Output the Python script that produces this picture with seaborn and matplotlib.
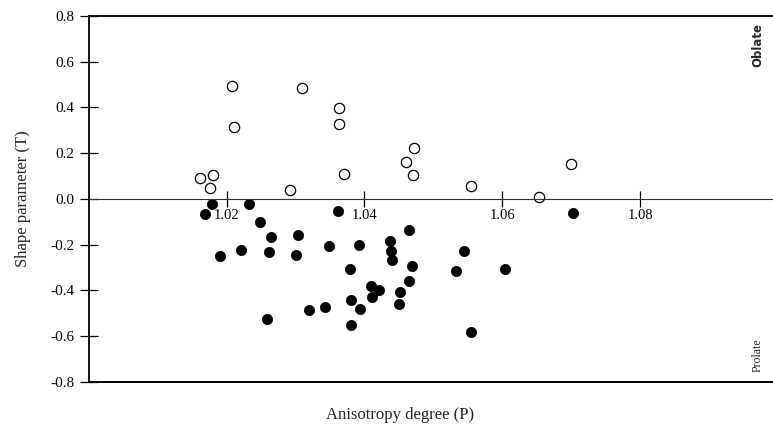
import matplotlib
matplotlib.use("Agg")
import matplotlib.pyplot as plt
import seaborn as sns
import pandas as pd

# ── Data ─────────────────────────────────────────────────────────────────────
# open circles: oblate fabrics (T > 0)
oblate_P = [1.0208, 1.0309, 1.0211, 1.0363, 1.0363, 1.0370, 1.0161, 1.0180,
            1.0176, 1.0292, 1.0472, 1.0461, 1.0471, 1.0554, 1.0654, 1.0700]
oblate_T = [0.493, 0.484, 0.313, 0.396, 0.329, 0.110, 0.093, 0.104,
            0.048, 0.038, 0.224, 0.162, 0.104, 0.056, 0.010, 0.154]

# filled circles: prolate fabrics (T < 0)
prolate_P = [1.0169, 1.0179, 1.0232, 1.0362, 1.0249, 1.0191, 1.0221, 1.0264,
             1.0262, 1.0303, 1.0301, 1.0348, 1.0392, 1.0379, 1.0409, 1.0421,
             1.0381, 1.0411, 1.0393, 1.0380, 1.0320, 1.0342, 1.0259, 1.0464,
             1.0437, 1.0439, 1.0440, 1.0469, 1.0464, 1.0452, 1.0450, 1.0544,
             1.0533, 1.0604, 1.0554, 1.0702]
prolate_T = [-0.067, -0.023, -0.021, -0.053, -0.100, -0.250, -0.224, -0.168,
             -0.234, -0.157, -0.244, -0.206, -0.202, -0.308, -0.382, -0.399,
             -0.440, -0.431, -0.481, -0.550, -0.486, -0.471, -0.525, -0.137,
             -0.186, -0.229, -0.268, -0.295, -0.360, -0.408, -0.459, -0.228,
             -0.317, -0.307, -0.582, -0.063]

x_ticks = [1.02, 1.04, 1.06, 1.08]
y_ticks = [0.8, 0.6, 0.4, 0.2, 0.0, -0.2, -0.4, -0.6, -0.8]

df_obl = pd.DataFrame({"P": oblate_P, "T": oblate_T})
df_pro = pd.DataFrame({"P": prolate_P, "T": prolate_T})

# ── Style ────────────────────────────────────────────────────────────────────
sns.set_theme(style="white")
plt.rcParams["font.family"] = ["Liberation Serif", "DejaVu Serif"]

fig = plt.figure(figsize=(7.73, 4.30), dpi=100)
ax = fig.add_axes([0.115, 0.112, 0.885, 0.851])

sns.scatterplot(data=df_obl, x="P", y="T", ax=ax, s=55,
                facecolor="white", edgecolor="black", linewidth=0.9)
sns.scatterplot(data=df_pro, x="P", y="T", ax=ax, s=55,
                color="black", edgecolor="black", linewidth=0.5)

ax.set_xlim(1.0, 1.0993)
ax.set_ylim(-0.8, 0.8)

# x axis sits on the T = 0 line, the frame is closed by a separate bottom line
ax.spines["bottom"].set_position(("data", 0))
ax.spines["bottom"].set_linewidth(0.8)
ax.spines["bottom"].set_color("#333333")
ax.spines["right"].set_visible(False)
for s in ("left", "top"):
    ax.spines[s].set_linewidth(1.3)
    ax.spines[s].set_color("black")
ax.plot([0, 1], [0, 0], transform=ax.transAxes, color="black", lw=1.4,
        clip_on=False)

ax.set_xticks(x_ticks)
ax.set_xticklabels([f"{v:.2f}" for v in x_ticks])
ax.set_yticks(y_ticks)
ax.set_yticklabels([f"{v:.1f}" for v in y_ticks])
ax.tick_params(axis="x", direction="inout", length=11, width=0.9,
               labelsize=10.5, pad=2, colors="black", bottom=True)
ax.tick_params(axis="y", direction="inout", length=13, width=0.9,
               labelsize=11, pad=4, colors="black", left=True)

ax.set_xlabel("")
ax.set_ylabel("Shape parameter (T)", fontsize=12, labelpad=14)
fig.text(400 / 773, 1 - 415 / 430, "Anisotropy degree (P)", fontsize=12,
         ha="center", va="center")

# fabric labels on the right edge
fig.text(758 / 773, 1 - 45 / 430, "Oblate", rotation=90, fontsize=8.5,
         family="DejaVu Sans", fontweight="bold", ha="center", va="center")
fig.text(758 / 773, 1 - 355 / 430, "Prolate", rotation=90, fontsize=8.5,
         ha="center", va="center")

fig.savefig("out.png", dpi=100)
